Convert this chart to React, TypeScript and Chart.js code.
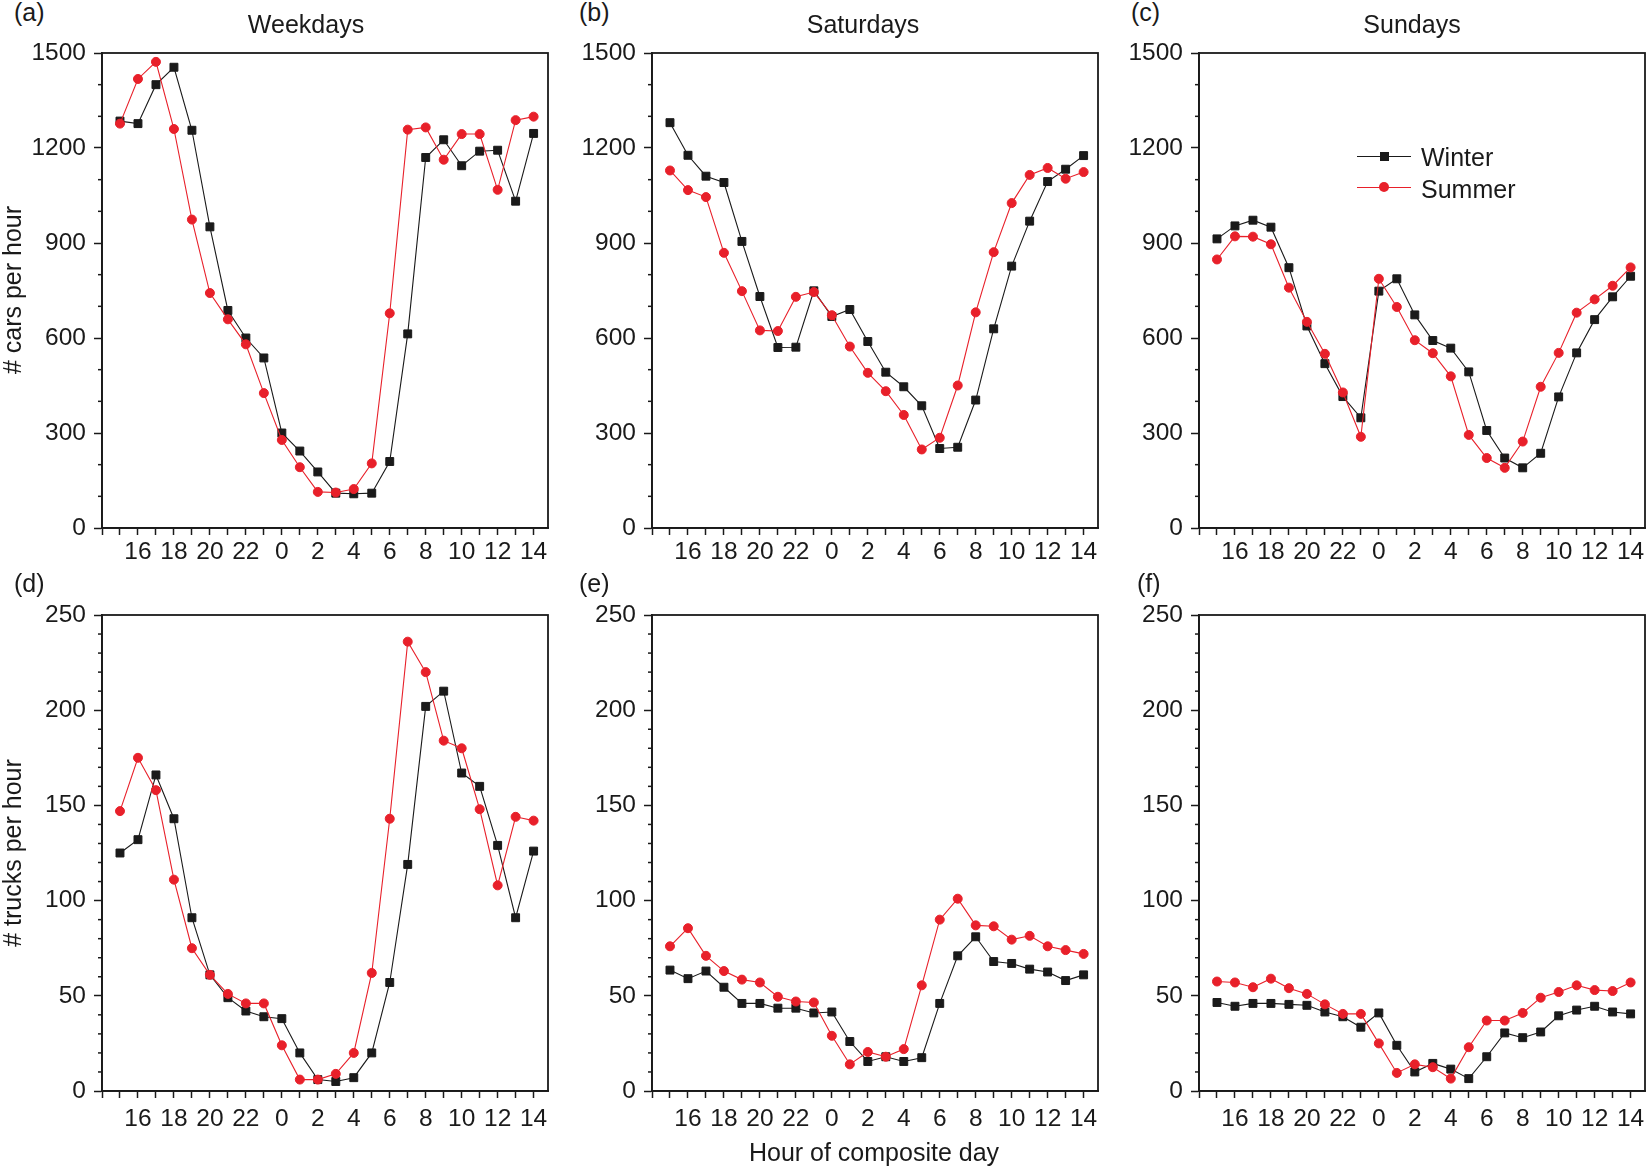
import { useEffect, useRef } from "react"
import { Chart, registerables } from "chart.js"
import type { Plugin } from "chart.js"

// Register Chart.js components
Chart.register(...registerables)

// Hour of composite day (15h -> 14h of the next day)
const hours = [15, 16, 17, 18, 19, 20, 21, 22, 23, 0, 1, 2, 3, 4, 5, 6, 7, 8, 9, 10, 11, 12, 13, 14]

// Cars per hour
const carsWeekdayWinter = [1285, 1277, 1400, 1455, 1256, 951, 687, 600, 537, 300, 243, 177, 110, 108, 110, 210, 613, 1170, 1226, 1144, 1190, 1193, 1032, 1246]
const carsWeekdaySummer = [1277, 1418, 1472, 1260, 974, 742, 659, 580, 426, 278, 192, 114, 112, 123, 204, 678, 1258, 1265, 1163, 1244, 1244, 1068, 1288, 1299]
const carsSaturdayWinter = [1280, 1177, 1111, 1091, 905, 731, 570, 571, 749, 668, 690, 589, 492, 446, 386, 251, 255, 404, 629, 827, 969, 1094, 1133, 1176]
const carsSaturdaySummer = [1129, 1067, 1045, 869, 748, 624, 622, 730, 745, 672, 573, 490, 432, 357, 248, 285, 450, 681, 871, 1026, 1115, 1137, 1103, 1124]
const carsSundayWinter = [913, 954, 972, 950, 822, 638, 519, 415, 348, 748, 787, 673, 592, 568, 493, 308, 221, 190, 236, 414, 553, 658, 730, 795]
const carsSundaySummer = [848, 921, 920, 896, 759, 651, 550, 428, 288, 787, 698, 593, 552, 479, 294, 221, 190, 273, 446, 553, 680, 722, 765, 823]

// Trucks per hour
const trucksWeekdayWinter = [125, 132, 166, 143, 91, 61, 49, 42, 39, 38, 20, 6, 5, 7, 20, 57, 119, 202, 210, 167, 160, 129, 91, 126]
const trucksWeekdaySummer = [147, 175, 158, 111, 75, 61, 51, 46, 46, 24, 6, 6, 9, 20, 62, 143, 236, 220, 184, 180, 148, 108, 144, 142]
const trucksSaturdayWinter = [63.5, 59, 63, 54.5, 46, 46, 43.5, 43.5, 41, 41.5, 26, 15.5, 18, 15.5, 17.5, 46, 71, 81, 68, 67, 64, 62.5, 58, 61]
const trucksSaturdaySummer = [76, 85.5, 71, 63, 58.5, 57, 49.5, 47, 46.5, 29, 14, 20.5, 18, 22, 55.5, 90, 101, 87, 86.5, 79.5, 81.5, 76, 74, 72]
const trucksSundayWinter = [46.5, 44.5, 46, 46, 45.5, 45, 41.5, 39, 33.5, 41, 24, 10, 14.5, 11.5, 6.5, 18, 30.5, 28, 31, 39.5, 42.5, 44.5, 41.5, 40.5]
const trucksSundaySummer = [57.5, 57, 54.5, 59, 54, 51, 45.5, 40.5, 40.5, 25, 9.5, 14, 12.5, 6.5, 23, 37, 37, 41, 49, 52, 55.5, 53, 52.5, 57]

// Labelled y ticks
const carTickLabels = [0, 300, 600, 900, 1200, 1500]
const truckTickLabels = [0, 50, 100, 150, 200, 250]

const FONT = "'Liberation Sans', Arial, Helvetica, sans-serif"
const INK = "#1a1a1a"
const RED = "#e8202a"

const PLOT_W = 446
const AXIS_W = 100
const AXIS_H = 50
const PAD_TOP = 20
const PAD_RIGHT = 14

interface PanelProps {
  winter: number[]
  summer: number[]
  yMax: number
  yStep: number
  yLabels: number[]
  plotLeft: number
  plotTop: number
  plotHeight: number
  labelPad: number
}

function Panel({ winter, summer, yMax, yStep, yLabels, plotLeft, plotTop, plotHeight, labelPad }: PanelProps) {
  const chartRef = useRef<HTMLCanvasElement>(null)
  const chartInstance = useRef<Chart | null>(null)
  const width = AXIS_W + PLOT_W + PAD_RIGHT
  const height = PAD_TOP + plotHeight + AXIS_H

  useEffect(() => {
    if (!chartRef.current) return
    if (chartInstance.current) chartInstance.current.destroy()
    const ctx = chartRef.current.getContext("2d")
    if (!ctx) return

    const isLabelled = (v: number) => yLabels.includes(v)

    // box around the plot + short minor ticks on the y axis
    const frame: Plugin<"line"> = {
      id: "frame",
      afterDraw(chart) {
        const { ctx, chartArea } = chart
        const yScale = chart.scales.y
        ctx.save()
        ctx.strokeStyle = INK
        ctx.lineWidth = 1.5
        yScale.ticks.forEach((t) => {
          if (isLabelled(t.value)) return
          const py = yScale.getPixelForValue(t.value)
          ctx.beginPath()
          ctx.moveTo(chartArea.left - 4, py)
          ctx.lineTo(chartArea.left, py)
          ctx.stroke()
        })
        ctx.lineWidth = 1.8
        ctx.strokeRect(chartArea.left, chartArea.top, chartArea.right - chartArea.left, chartArea.bottom - chartArea.top)
        ctx.restore()
      },
    }

    chartInstance.current = new Chart(ctx, {
      type: "line",
      data: {
        datasets: [
          {
            label: "Winter",
            data: winter.map((v, i) => ({ x: i, y: v })),
            borderColor: INK,
            borderWidth: 1.1,
            pointStyle: "rect",
            pointRadius: 5.6,
            pointBackgroundColor: INK,
            pointBorderColor: INK,
            pointBorderWidth: 1,
            order: 1,
          },
          {
            label: "Summer",
            data: summer.map((v, i) => ({ x: i, y: v })),
            borderColor: RED,
            borderWidth: 1.1,
            pointStyle: "circle",
            pointRadius: 4.5,
            pointBackgroundColor: RED,
            pointBorderColor: RED,
            pointBorderWidth: 1,
            order: 0,
          },
        ],
      },
      options: {
        responsive: false,
        animation: false,
        layout: { padding: { left: 0, top: PAD_TOP, right: PAD_RIGHT, bottom: 0 } },
        plugins: {
          legend: { display: false },
          tooltip: { enabled: false },
        },
        scales: {
          x: {
            type: "linear",
            min: -1,
            max: 23.8,
            ticks: {
              stepSize: 1,
              autoSkip: false,
              maxRotation: 0,
              includeBounds: false,
              maxTicksLimit: 100,
              padding: labelPad,
              color: INK,
              font: { family: FONT, size: 24.5 },
              callback: (v) => {
                const i = Number(v)
                if (Number.isInteger(i) && i >= 0 && i < hours.length && hours[i] % 2 === 0) return String(hours[i])
                return ""
              },
            },
            grid: { drawOnChartArea: false, drawTicks: true, tickLength: 7, tickWidth: 1.5, tickColor: INK },
            border: { display: true, color: INK, width: 1.8 },
            afterFit: (scale) => {
              scale.height = AXIS_H
              scale.paddingLeft = 0
              scale.paddingRight = 0
            },
          },
          y: {
            type: "linear",
            min: 0,
            max: yMax,
            ticks: {
              stepSize: yStep,
              autoSkip: false,
              maxTicksLimit: 100,
              padding: 8,
              color: INK,
              font: { family: FONT, size: 24.5 },
              callback: (v) => (isLabelled(Number(v)) ? String(v) : ""),
            },
            grid: {
              drawOnChartArea: false,
              drawTicks: true,
              tickLength: 8,
              tickWidth: 1.5,
              tickColor: (c) => (c.tick && isLabelled(c.tick.value) ? INK : "rgba(0,0,0,0)"),
            },
            border: { display: true, color: INK, width: 1.8 },
            afterFit: (scale) => {
              scale.width = AXIS_W
              scale.paddingTop = 0
              scale.paddingBottom = 0
            },
          },
        },
      },
      plugins: [frame],
    })

    return () => {
      if (chartInstance.current) {
        chartInstance.current.destroy()
        chartInstance.current = null
      }
    }
  }, [winter, summer, yMax, yStep, yLabels, labelPad])

  return (
    <canvas
      ref={chartRef}
      width={width}
      height={height}
      style={{ position: "absolute", left: plotLeft - AXIS_W, top: plotTop - PAD_TOP, width, height }}
    />
  )
}

// text placed by its baseline (25px font, 25px line box)
function Text({ x, baseline, children, center }: { x: number; baseline: number; children: string; center?: boolean }) {
  return (
    <div
      style={{
        position: "absolute",
        left: x,
        top: baseline - 21,
        fontFamily: FONT,
        fontSize: 25,
        lineHeight: "25px",
        color: INK,
        whiteSpace: "nowrap",
        transform: center ? "translateX(-50%)" : undefined,
      }}
    >
      {children}
    </div>
  )
}

function YTitle({ x, y, children }: { x: number; y: number; children: string }) {
  return (
    <div
      style={{
        position: "absolute",
        left: x,
        top: y,
        fontFamily: FONT,
        fontSize: 25,
        lineHeight: "25px",
        color: INK,
        whiteSpace: "nowrap",
        transform: "translate(-50%, -50%) rotate(-90deg)",
      }}
    >
      {children}
    </div>
  )
}

const colLeft = [102, 652, 1199]
const topRow = { top: 53, height: 475, pad: 3 }
const bottomRow = { top: 615, height: 476, pad: 7 }

export default function App() {
  const carPanels = [
    { winter: carsWeekdayWinter, summer: carsWeekdaySummer },
    { winter: carsSaturdayWinter, summer: carsSaturdaySummer },
    { winter: carsSundayWinter, summer: carsSundaySummer },
  ]
  const truckPanels = [
    { winter: trucksWeekdayWinter, summer: trucksWeekdaySummer },
    { winter: trucksSaturdayWinter, summer: trucksSaturdaySummer },
    { winter: trucksSundayWinter, summer: trucksSundaySummer },
  ]

  return (
    <div style={{ position: "absolute", left: 0, top: 0, width: 1650, height: 1167, background: "#fff", overflow: "hidden" }}>
      {carPanels.map((p, i) => (
        <Panel
          key={"car" + i}
          winter={p.winter}
          summer={p.summer}
          yMax={1500}
          yStep={100}
          yLabels={carTickLabels}
          plotLeft={colLeft[i]}
          plotTop={topRow.top}
          plotHeight={topRow.height}
          labelPad={topRow.pad}
        />
      ))}
      {truckPanels.map((p, i) => (
        <Panel
          key={"truck" + i}
          winter={p.winter}
          summer={p.summer}
          yMax={250}
          yStep={10}
          yLabels={truckTickLabels}
          plotLeft={colLeft[i]}
          plotTop={bottomRow.top}
          plotHeight={bottomRow.height}
          labelPad={bottomRow.pad}
        />
      ))}

      <Text x={14} baseline={21}>(a)</Text>
      <Text x={579} baseline={21}>(b)</Text>
      <Text x={1131} baseline={21}>(c)</Text>
      <Text x={14} baseline={592}>(d)</Text>
      <Text x={579} baseline={592}>(e)</Text>
      <Text x={1137} baseline={592}>(f)</Text>

      <Text x={306} baseline={33} center>Weekdays</Text>
      <Text x={863} baseline={33} center>Saturdays</Text>
      <Text x={1412} baseline={33} center>Sundays</Text>

      <YTitle x={12} y={290}>{"# cars per hour"}</YTitle>
      <YTitle x={12} y={853}>{"# trucks per hour"}</YTitle>

      <Text x={874} baseline={1161} center>Hour of composite day</Text>

      {/* legend (panel c) */}
      <div style={{ position: "absolute", left: 1357, top: 156, width: 54, borderTop: `1.2px solid ${INK}` }} />
      <div style={{ position: "absolute", left: 1379.5, top: 151.5, width: 9, height: 9, background: INK }} />
      <Text x={1421} baseline={166}>Winter</Text>
      <div style={{ position: "absolute", left: 1357, top: 187, width: 54, borderTop: `1.2px solid ${RED}` }} />
      <div style={{ position: "absolute", left: 1379, top: 182, width: 10, height: 10, borderRadius: 5, background: RED }} />
      <Text x={1421} baseline={198}>Summer</Text>
    </div>
  )
}
